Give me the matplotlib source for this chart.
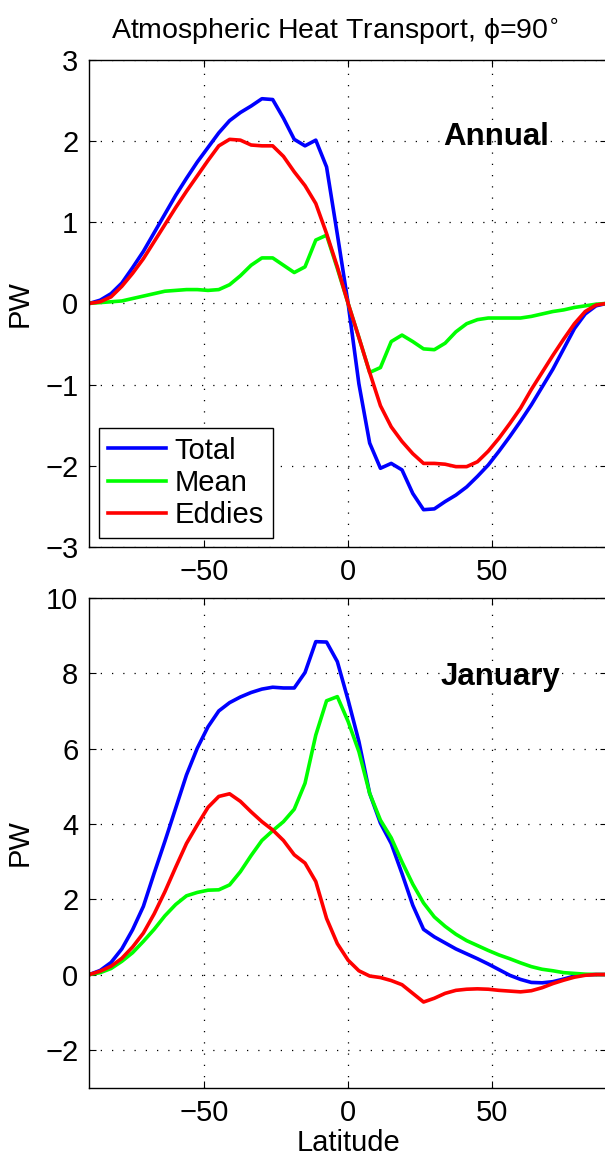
import numpy as np
import matplotlib
matplotlib.use('Agg')
import matplotlib.pyplot as plt

plt.rcParams['font.family'] = ['Liberation Sans', 'DejaVu Sans']

# latitude grid (3.75 deg)
lat = np.linspace(-90, 90, 49)

ann_total = [0, 0.04, 0.12, 0.25, 0.44, 0.64, 0.87, 1.10, 1.33, 1.54, 1.74, 1.92, 2.10,
             2.25, 2.35, 2.43, 2.52, 2.51, 2.28, 2.02, 1.94, 2.01, 1.68, 0.85, 0.0,
             -0.99, -1.72, -2.03, -1.97, -2.05, -2.34, -2.54, -2.53, -2.44, -2.36, -2.26,
             -2.13, -1.99, -1.82, -1.64, -1.45, -1.25, -1.03, -0.81, -0.56, -0.31, -0.13,
             -0.03, 0]
ann_mean = [0, 0.01, 0.02, 0.03, 0.06, 0.09, 0.12, 0.15, 0.16, 0.17, 0.17, 0.16, 0.17,
            0.23, 0.34, 0.47, 0.56, 0.56, 0.47, 0.38, 0.45, 0.78, 0.84, 0.43, 0.0,
            -0.42, -0.85, -0.79, -0.47, -0.39, -0.47, -0.56, -0.57, -0.49, -0.35, -0.25,
            -0.20, -0.18, -0.18, -0.18, -0.18, -0.16, -0.13, -0.10, -0.08, -0.05, -0.03,
            -0.01, 0]
ann_eddy = [0, 0.02, 0.08, 0.21, 0.37, 0.55, 0.76, 0.97, 1.18, 1.38, 1.57, 1.76, 1.94,
            2.02, 2.01, 1.95, 1.94, 1.94, 1.81, 1.62, 1.45, 1.23, 0.86, 0.45, 0.0,
            -0.42, -0.85, -1.26, -1.52, -1.70, -1.85, -1.97, -1.97, -1.98, -2.01, -2.01,
            -1.95, -1.82, -1.66, -1.48, -1.29, -1.06, -0.85, -0.64, -0.44, -0.25, -0.10,
            -0.02, 0]

jan_total = [0, 0.11, 0.32, 0.68, 1.19, 1.81, 2.69, 3.54, 4.42, 5.30, 6.01, 6.58, 7.00,
             7.22, 7.37, 7.49, 7.58, 7.63, 7.61, 7.61, 8.02, 8.84, 8.83, 8.31, 7.29,
             6.19, 4.81, 4.02, 3.48, 2.68, 1.84, 1.20, 1.00, 0.84, 0.68, 0.55,
             0.42, 0.28, 0.13, -0.02, -0.13, -0.21, -0.22, -0.19, -0.12, -0.04, -0.01,
             0, 0]
jan_mean = [0, 0.05, 0.16, 0.35, 0.58, 0.88, 1.20, 1.56, 1.86, 2.09, 2.18, 2.24, 2.25,
            2.38, 2.73, 3.16, 3.56, 3.82, 4.06, 4.39, 5.08, 6.36, 7.27, 7.38, 6.72,
            5.92, 4.81, 4.10, 3.63, 2.99, 2.40, 1.90, 1.53, 1.28, 1.07, 0.90,
            0.77, 0.64, 0.52, 0.42, 0.31, 0.21, 0.14, 0.10, 0.05, 0.03, 0.01,
            0, 0]
jan_eddy = [0, 0.09, 0.22, 0.43, 0.73, 1.10, 1.61, 2.20, 2.85, 3.48, 3.97, 4.44, 4.73,
            4.80, 4.60, 4.32, 4.06, 3.84, 3.56, 3.18, 2.96, 2.47, 1.49, 0.82, 0.38,
            0.10, -0.04, -0.08, -0.16, -0.27, -0.50, -0.73, -0.63, -0.50, -0.42, -0.39,
            -0.38, -0.39, -0.42, -0.44, -0.46, -0.43, -0.35, -0.24, -0.15, -0.07, -0.02,
            0, 0]

labels = ['Total', 'Mean', 'Eddies']
colors = ['#0000ff', '#00ff00', '#ff0000']
fs = 21

fig = plt.figure(figsize=(6.05, 11.6), dpi=100)
ax1 = fig.add_axes([0.1479, 0.5284, 0.855, 0.4201])
ax2 = fig.add_axes([0.1479, 0.0625, 0.855, 0.422])


def style(ax, ylim, yticks):
    ax.set_xlim(-90, 90)
    ax.set_ylim(*ylim)
    ax.set_xticks([-50, 0, 50])
    ax.set_yticks(yticks)
    ax.grid(True, color='k', linestyle=(0, (1, 8)), linewidth=0.9)
    ax.tick_params(direction='in', length=5, width=0.8, top=True, right=True,
                   labelsize=fs, pad=8)
    for s in ax.spines.values():
        s.set_linewidth(1.0)
    ax.set_ylabel('PW', fontsize=fs, labelpad=8)


for y, c, l in zip([ann_total, ann_mean, ann_eddy], colors, labels):
    ax1.plot(lat, y, color=c, lw=2.6, label=l)
style(ax1, (-3, 3), range(-3, 4))
ax1.text(33, 1.95, 'Annual', fontsize=22.5, fontweight='bold')
leg = ax1.legend(loc='lower left', bbox_to_anchor=(0.0184, 0.0185), borderaxespad=0,
                 fontsize=fs, fancybox=False, framealpha=1, edgecolor='k',
                 handlelength=2.0, handletextpad=0.3, labelspacing=0.15,
                 borderpad=0.3)
leg.get_frame().set_linewidth(1.0)
ax1.set_title('Atmospheric Heat Transport, ϕ=90$^{\\circ}$', fontsize=20.5, pad=15,
              x=0.475)

for y, c, l in zip([jan_total, jan_mean, jan_eddy], colors, labels):
    ax2.plot(lat, y, color=c, lw=2.6, label=l)
style(ax2, (-3, 10), range(-2, 11, 2))
ax2.text(32, 7.7, 'January', fontsize=22.5, fontweight='bold')
ax2.set_xlabel('Latitude', fontsize=fs, labelpad=2)

fig.savefig('out.png', dpi=100)
